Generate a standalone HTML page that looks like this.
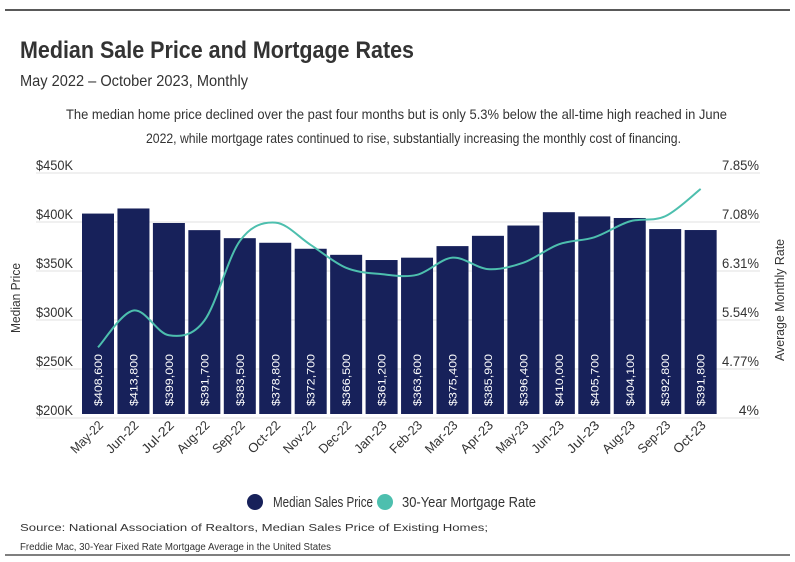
<!DOCTYPE html>
<html><head><meta charset="utf-8"><style>
body{margin:0;background:#fff}
svg{display:block;font-family:"Liberation Sans",sans-serif}
</style></head><body>
<svg id="chart" width="795" height="562" viewBox="0 0 795 562">
<line x1="5" y1="10" x2="790" y2="10" stroke="#222" stroke-width="1.5"/>
<text x="20" y="58" font-size="24" font-weight="bold" fill="#333" textLength="394" lengthAdjust="spacingAndGlyphs">Median Sale Price and Mortgage Rates</text>
<text x="20" y="86" font-size="16" fill="#333" textLength="228" lengthAdjust="spacingAndGlyphs">May 2022 – October 2023, Monthly</text>
<text x="66" y="119" font-size="14" fill="#333" textLength="661" lengthAdjust="spacingAndGlyphs">The median home price declined over the past four months but is only 5.3% below the all-time high reached in June</text>
<text x="146" y="143" font-size="14" fill="#333" textLength="535" lengthAdjust="spacingAndGlyphs">2022, while mortgage rates continued to rise, substantially increasing the monthly cost of financing.</text>
<g id="grid"></g><g id="bars"></g><g id="line"></g><g id="axes"></g>
<text transform="translate(20,298) rotate(-90)" text-anchor="middle" font-size="13" fill="#333" textLength="70" lengthAdjust="spacingAndGlyphs">Median Price</text>
<text transform="translate(784,300) rotate(-90)" text-anchor="middle" font-size="13" fill="#333" textLength="122" lengthAdjust="spacingAndGlyphs">Average Monthly Rate</text>
<g>
<circle cx="255" cy="502" r="8" fill="#17215a"/>
<text x="273" y="507" font-size="15" fill="#333" textLength="100" lengthAdjust="spacingAndGlyphs">Median Sales Price</text>
<circle cx="385" cy="502" r="8" fill="#4dbfae"/>
<text x="402" y="507" font-size="15" fill="#333" textLength="134" lengthAdjust="spacingAndGlyphs">30-Year Mortgage Rate</text>
</g>
<text x="20" y="531" font-size="10" fill="#333" textLength="468" lengthAdjust="spacingAndGlyphs">Source: National Association of Realtors, Median Sales Price of Existing Homes;</text>
<text x="20" y="550" font-size="10" fill="#333" textLength="311" lengthAdjust="spacingAndGlyphs">Freddie Mac, 30-Year Fixed Rate Mortgage Average in the United States</text>
<line x1="5" y1="555" x2="790" y2="555" stroke="#555" stroke-width="1.5"/>
</svg>
<script>
const categories=["May-22","Jun-22","Jul-22","Aug-22","Sep-22","Oct-22","Nov-22","Dec-22","Jan-23","Feb-23","Mar-23","Apr-23","May-23","Jun-23","Jul-23","Aug-23","Sep-23","Oct-23"];
const prices=[408600,413800,399000,391700,383500,378800,372700,366500,361200,363600,375400,385900,396400,410000,405700,404100,392800,391800];
const rates=[5.11,5.69,5.30,5.53,6.78,7.07,6.72,6.36,6.26,6.25,6.52,6.34,6.44,6.73,6.84,7.09,7.17,7.60];
const priceTicks=[200000,250000,300000,350000,400000,450000];
const priceTickLabels=["$200K","$250K","$300K","$350K","$400K","$450K"];
const rateTicks=[4,4.77,5.54,6.31,7.08,7.85];
const rateTickLabels=["4%","4.77%","5.54%","6.31%","7.08%","7.85%"];

const NS="http://www.w3.org/2000/svg";
const top0=173,bot0=418;
const yP=v=>bot0-(v-200000)/250000*(bot0-top0);
const yR=v=>bot0-(v-4)/3.85*(bot0-top0);
const pitch=35.45,x0=82,bw=32;
const xC=i=>x0+bw/2+i*pitch;
function mk(tag,attrs,parent){const e=document.createElementNS(NS,tag);for(const k in attrs)e.setAttribute(k,attrs[k]);document.getElementById(parent).appendChild(e);return e;}

priceTicks.forEach((t,i)=>{
  const g=mk('line',{x1:36,x2:760,y1:yP(t),y2:yP(t),stroke:'#e2e2e2','stroke-width':1},'grid');
  
  
  const l=mk('text',{x:36,y:yP(t)-3,'font-size':14,fill:'#333',textLength:37,lengthAdjust:'spacingAndGlyphs'},'axes');
  l.textContent=priceTickLabels[i];
  
  
});
rateTicks.forEach((t,i)=>{
  const lbl=rateTickLabels[i];
  const attrs={x:759,y:yR(t)-3,'text-anchor':'end','font-size':14,fill:'#333'};
  if(lbl.length>3){attrs.textLength=lbl.length*7.4;attrs.lengthAdjust='spacingAndGlyphs';}
  const l=mk('text',attrs,'axes');
  l.textContent=lbl;
  
  
});
prices.forEach((p,i)=>{
  const x=x0+i*pitch;
  const r=mk('rect',{x:x,y:yP(p),width:bw,height:bot0-yP(p)-4,fill:'#17215a'},'bars');
  
  
  const t=mk('text',{transform:`translate(${xC(i)+4},${bot0-12}) rotate(-90)`,'font-size':11,fill:'#fff',textLength:52,lengthAdjust:'spacingAndGlyphs'},'bars');
  t.textContent='$'+p.toLocaleString('en-US');
  
  
  const c=mk('text',{transform:`translate(${xC(i)+6},${bot0+8}) rotate(-45)`,'text-anchor':'end','font-size':13,fill:'#333',textLength:40,lengthAdjust:'spacingAndGlyphs'},'axes');
  c.textContent=categories[i];
  
  
});
const pts=rates.map((r,i)=>[xC(i),yR(r)]);
let d='M'+pts[0][0]+','+pts[0][1];
for(let i=0;i<pts.length-1;i++){
  const p0=pts[Math.max(0,i-1)],p1=pts[i],p2=pts[i+1],p3=pts[Math.min(pts.length-1,i+2)];
  const c1=[p1[0]+(p2[0]-p0[0])/6,p1[1]+(p2[1]-p0[1])/6],c2=[p2[0]-(p3[0]-p1[0])/6,p2[1]-(p3[1]-p1[1])/6];
  d+=` C${c1[0]},${c1[1]} ${c2[0]},${c2[1]} ${p2[0]},${p2[1]}`;
}
const ln=mk('path',{d:d,fill:'none',stroke:'#4dbfae','stroke-width':2},'line');


</script>
</body></html>
